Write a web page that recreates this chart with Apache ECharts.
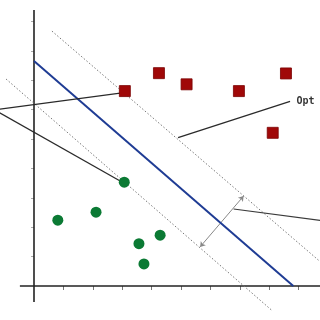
<!DOCTYPE html>
<html><head><meta charset="utf-8">
<script src="https://cdn.jsdelivr.net/npm/echarts@6/dist/echarts.min.js"></script>
<style>html,body{margin:0;padding:0;background:#fff}#c{width:320px;height:320px}</style>
</head><body><div id="c"></div>
<script>
// Class A (red squares)
const redX = [3.09, 4.25, 5.19, 6.97, 8.57, 8.12];
const redY = [6.63, 7.24, 6.86, 6.63, 7.23, 5.21];
// Class B (green circles)
const greenX = [3.07, 2.11, 0.81, 3.57, 4.29, 3.74];
const greenY = [3.53, 2.51, 2.24, 1.44, 1.73, 0.75];
// Hyperplane and margins (endpoints)
const hyperX = [0, 8.82];
const hyperY = [7.65, 0];
const upperX = [0.61, 10.0];
const upperY = [8.67, 0.60];
const lowerX = [-0.95, 8.08];
const lowerY = [7.04, -0.82];
// Annotation leader lines
const lead1X = [-1.2, 2.93];
const lead1Y = [6.01, 6.56];
const lead2X = [-1.2, 2.93];
const lead2Y = [5.91, 3.57];
const optX = [4.90, 8.71];
const optY = [5.05, 6.28];
const marginLeadX = [6.79, 10.0];
const marginLeadY = [2.62, 2.20];
const arrowX = [5.65, 7.13];
const arrowY = [1.33, 3.06];
// Axes
const xAxisLineX = [-0.48, 9.73];
const xAxisLineY = [0, 0];
const yAxisLineX = [0, 0];
const yAxisLineY = [9.39, -0.54];
const tickVals = [1, 2, 3, 4, 5, 6, 7, 8, 9];
const optLabel = 'Opt';
const optLabelPos = [8.93, 6.29];

const zip = (a, b) => a.map((v, i) => [v, b[i]]);
const chart = echarts.init(document.getElementById('c'));
const lineS = (xs, ys, color, width, type) => ({
  type: 'line', data: zip(xs, ys), symbol: 'none', clip: false, silent: true,
  lineStyle: { color, width, type }, z: 3, animation: false
});
const baseX = {
  type: 'value', min: -1.1565, max: 9.728, splitLine: { show: false },
  axisLabel: { show: false }
};
const baseY = {
  type: 'value', min: -1.1565, max: 9.728, splitLine: { show: false },
  axisLabel: { show: false }
};
const hiddenLine = { show: true, onZero: true, lineStyle: { opacity: 0 } };
chart.setOption({
  animation: false,
  grid: { left: 0, top: 0, width: 320, height: 320 },
  xAxis: [
    Object.assign({}, baseX, {
      axisLine: hiddenLine,
      axisTick: { show: true, customValues: tickVals, length: 4, inside: false, lineStyle: { color: '#777', width: 1 } }
    }),
    Object.assign({}, baseX, {
      axisLine: hiddenLine,
      axisTick: { show: true, customValues: tickVals, length: 4, inside: true, lineStyle: { color: '#777', width: 1 } }
    })
  ],
  yAxis: [
    Object.assign({}, baseY, {
      axisLine: hiddenLine,
      axisTick: { show: true, customValues: tickVals, length: 3, inside: false, lineStyle: { color: '#aaa', width: 1 } }
    }),
    Object.assign({}, baseY, {
      axisLine: hiddenLine,
      axisTick: { show: true, customValues: tickVals, length: 3, inside: true, lineStyle: { color: '#aaa', width: 1 } }
    })
  ],
  series: [
    lineS(xAxisLineX, xAxisLineY, '#222', 1.6),
    lineS(yAxisLineX, yAxisLineY, '#222', 1.6),
    lineS(upperX, upperY, '#777', 1, [1.5, 2]),
    lineS(lowerX, lowerY, '#777', 1, [1.5, 2]),
    lineS(hyperX, hyperY, '#1f3c94', 2),
    lineS(lead1X, lead1Y, '#2a2a2a', 1.3),
    lineS(lead2X, lead2Y, '#2a2a2a', 1.3),
    lineS(optX, optY, '#2a2a2a', 1.3),
    lineS(marginLeadX, marginLeadY, '#3a3a3a', 1.2),
    {
      type: 'lines', coordinateSystem: 'cartesian2d', clip: false, silent: true,
      symbol: ['arrow', 'arrow'], symbolSize: 5, z: 3,
      lineStyle: { color: '#888', width: 1, opacity: 1 },
      data: [{ coords: zip(arrowX, arrowY) }]
    },
    {
      type: 'scatter', data: zip(redX, redY), symbol: 'rect', symbolSize: 11, z: 5,
      itemStyle: { color: '#a00808', borderColor: '#7a0000', borderWidth: 0.8, opacity: 1 }
    },
    {
      type: 'scatter', data: zip(greenX, greenY), symbol: 'circle', symbolSize: 11, z: 5,
      itemStyle: { color: '#0b7a34', opacity: 1 }
    },
    {
      type: 'scatter', data: [optLabelPos], symbolSize: 0, z: 6, silent: true,
      label: {
        show: true, position: 'right', distance: 0, formatter: optLabel,
        fontFamily: 'DejaVu Sans Mono', fontWeight: 'bold', fontSize: 10, color: '#000'
      }
    }
  ]
});
</script></body></html>
